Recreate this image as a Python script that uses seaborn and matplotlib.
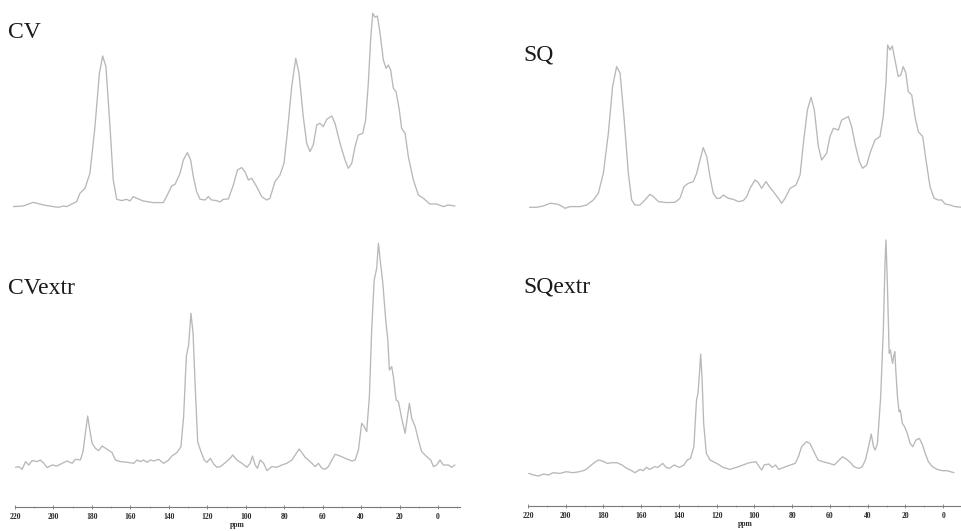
import numpy as np
import pandas as pd
import matplotlib
matplotlib.use("Agg")
import matplotlib.pyplot as plt
import seaborn as sns

# ---------------- data ----------------
cv_ppm = [220.6, 215.4, 210.2, 205.0, 199.8, 197.2, 194.6, 192.9, 187.7, 186.0, 183.4, 180.8, 178.2, 175.9,
          174.2, 172.5, 170.4, 168.7, 166.9, 164.3, 161.7, 160.0, 158.3, 156.5, 153.1, 147.9, 142.7, 141.0,
          138.4, 136.6, 134.0, 132.3, 130.2, 128.5, 127.1, 125.4, 123.6, 121.0, 119.3, 117.6, 115.0, 113.2,
          111.5, 108.9, 106.3, 104.2, 102.0, 100.3, 98.5, 96.8, 94.2, 91.6, 89.0, 87.3, 84.7, 82.1, 80.0,
          78.3, 76.0, 73.9, 72.2, 70.0, 68.2, 66.5, 64.8, 63.0, 61.3, 59.6, 57.8, 55.2, 53.5, 50.9, 48.3,
          46.6, 44.8, 43.1, 41.4, 39.1, 37.6, 36.2, 35.0, 33.9, 32.7, 31.5, 30.1, 28.4, 27.0, 25.8, 24.6,
          23.2, 21.8, 20.1, 18.9, 17.1, 15.4, 12.8, 10.2, 7.6, 4.2, 0.7, -2.8, -5.4, -8.8]
cv_int = [0.7, 1.3, 5, 2.3, 0.7, 0, 1.3, 0.7, 5.7, 14, 19, 34, 80.7, 134,
          151.3, 140.7, 80.7, 27.3, 8, 6.7, 8, 6.3, 10.7, 9, 6.3, 4.7, 4.7, 10.7,
          21.3, 23, 34, 47.3, 54.7, 47.3, 30.7, 15.7, 8, 7.3, 10.7, 7.3, 6.7, 5.3,
          8, 8.3, 22.3, 37.3, 39.7, 35.7, 27.3, 29, 20.7, 10.7, 7.3, 9, 25.7, 32.3, 44,
          74, 120.7, 149, 134, 90.7, 64, 55.7, 62.3, 82.3, 84, 80.7, 88, 91.3, 84, 64, 47.3,
          39, 44, 60.7, 72.3, 74, 87.3, 124, 167.3, 194, 190, 191.3, 174, 147.3, 139, 142.3, 137.3,
          119, 115.7, 97.3, 79, 74, 50.7, 27.3, 12.3, 9, 3.3, 3.3, 0.7, 2.3, 1.3]

sq_ppm = [219.0, 215.2, 211.8, 208.3, 204.8, 202.3, 200.5, 197.9, 192.7, 189.3, 185.8, 183.2, 180.6, 178.0,
          175.8, 173.7, 171.9, 169.9, 167.6, 165.9, 164.2, 161.6, 159.0, 156.4, 154.6, 152.0, 147.7, 143.4,
          140.8, 138.7, 136.5, 133.9, 132.1, 130.4, 128.7, 126.9, 125.2, 123.5, 121.7, 120.0, 118.3, 115.7,
          113.1, 110.5, 107.9, 106.1, 104.4, 101.8, 100.1, 98.4, 96.1, 94.4, 92.3, 89.7, 88.0, 86.2, 83.6,
          80.5, 78.4, 76.7, 74.6, 72.7, 71.0, 68.9, 67.2, 64.6, 62.9, 61.1, 58.5, 56.8, 53.3, 51.6, 49.9,
          47.6, 45.9, 43.8, 42.1, 39.5, 36.9, 35.2, 33.8, 32.9, 31.7, 30.5, 29.1, 27.4, 26.1, 24.8, 23.4,
          22.2, 20.4, 18.7, 17.0, 14.7, 13.0, 10.9, 8.8, 6.6, 4.8, 3.1, 0.5, -2.1, -5.7]
sq_int = [0, 0, 1.3, 4, 3.3, 1.3, -1, 0.7, 0.7, 2.3, 7.3, 14, 34, 74,
          120.7, 140.7, 134, 90.7, 34, 7.3, 2.3, 2.3, 7.3, 13, 10.7, 5.7, 4.7, 5,
          9, 20.7, 24, 25.7, 34, 47.3, 59.7, 50.7, 30.7, 14, 9, 9, 12.3, 9,
          8, 5.7, 6.7, 10.7, 19, 27.3, 24.7, 19, 25.7, 20.7, 15.7, 9, 4, 9, 19,
          22.3, 32.3, 64, 97.3, 110, 97.3, 60.7, 47.3, 54, 70.7, 79, 77.3, 87.3, 90.7, 80.7, 64,
          45.7, 39, 42.3, 54, 67.3, 70.7, 90.7, 124, 162.3, 157.3, 161.3, 147.3, 130.7, 132.3, 140.7, 134,
          115.7, 112.3, 90.7, 75.7, 70.7, 47.3, 20.7, 9, 7.3, 7.3, 3.3, 2.3, 0.7, 0]

cvx_ppm = [219.7, 218.0, 216.3, 214.5, 212.8, 211.1, 208.5, 206.8, 205.0, 203.3, 200.7, 198.1, 195.5, 192.9,
           190.3, 188.6, 186.0, 184.6, 183.4, 182.2, 181.1, 179.9, 178.2, 176.5, 174.7, 172.1, 169.5, 167.8,
           165.2, 161.7, 158.3, 156.5, 154.8, 153.1, 151.3, 149.6, 147.9, 145.3, 142.7, 140.1, 138.4, 135.8,
           133.7, 132.3, 130.9, 129.7, 128.5, 127.4, 126.2, 125.0, 123.3, 121.6, 120.2, 118.4, 116.7, 115.0,
           113.2, 110.6, 108.1, 106.8, 104.6, 102.0, 99.4, 97.7, 96.5, 95.1, 93.9, 92.5, 90.7, 89.0, 86.4,
           83.8, 81.2, 78.6, 76.0, 74.3, 72.2, 70.8, 69.1, 67.4, 65.6, 63.9, 62.2, 60.4, 58.7, 57.0, 55.2,
           53.5, 50.9, 48.3, 44.8, 43.1, 41.4, 39.7, 38.4, 37.1, 35.7, 34.5, 33.2, 31.9, 31.0, 30.1, 28.7,
           27.2, 26.1, 25.3, 24.1, 23.2, 21.8, 20.6, 18.9, 17.1, 15.9, 14.9, 13.7, 11.9, 10.2, 8.5, 5.9,
           3.8, 2.4, 0.7, -1.0, -2.8, -5.4, -7.1, -8.8]
cvx_int = [1, 1.7, -1, 6.7, 3.3, 7.7, 6.7, 8.3, 5, 0.7, 3.3, 2.3, 5, 7.3,
           5, 9, 8.3, 16.7, 35, 52.3, 38.3, 25, 20, 17.7, 22.3, 19, 15.7, 8.3,
           6.7, 6, 5, 8.3, 6.7, 8.3, 6, 8.3, 7.3, 9, 5, 8.3, 12.3, 15.7,
           21.7, 51.7, 111.7, 123.3, 155, 135, 78.3, 26.7, 16.7, 8.3, 6, 10, 4.3, 1,
           1.7, 5.7, 10, 13.3, 8.3, 5, 1, 5, 12.3, 3.3, 0, 8.3, 5, -2.3, 1.7,
           1, 3.3, 5, 8.3, 13.3, 19.3, 15.7, 11, 8.3, 5, 1.7, 5, 0, -1, 1.7, 8.3,
           14, 12.3, 10, 7.3, 8.3, 18.3, 45, 41.7, 36.7, 71.7, 138.3, 188.3, 200, 225, 208.3, 185,
           148.3, 128.3, 98.3, 101.7, 91.7, 68.3, 66.7, 50, 35, 51.7, 65, 50, 41.7, 28.3, 16.7, 11.7,
           8.3, 1.7, 3.3, 8.3, 3.3, 3.3, 1, 3.3]

sqx_ppm = [219.6, 217.0, 214.4, 211.8, 209.2, 206.6, 203.1, 199.7, 196.2, 192.7, 189.6, 187.5, 184.9, 182.7,
           180.6, 178.0, 175.4, 172.8, 170.2, 167.6, 165.0, 163.3, 160.7, 159.0, 157.2, 155.5, 152.9, 151.2,
           148.6, 146.8, 145.1, 142.5, 139.9, 137.3, 135.6, 133.9, 132.1, 130.7, 129.9, 129.0, 128.5, 127.8,
           126.9, 125.5, 123.5, 120.0, 116.5, 113.1, 109.6, 106.1, 102.7, 99.2, 97.5, 96.1, 94.9, 92.3, 90.6,
           88.8, 87.1, 84.5, 81.0, 78.4, 76.7, 75.0, 72.4, 70.6, 68.9, 66.3, 63.7, 60.3, 57.7, 55.1, 53.3,
           51.1, 49.0, 47.3, 44.7, 42.9, 41.2, 39.5, 38.1, 36.9, 36.0, 34.8, 33.1, 31.7, 30.8, 30.3, 29.6,
           28.6, 27.9, 27.4, 26.8, 26.1, 25.6, 25.1, 24.2, 23.4, 22.7, 21.6, 20.4, 19.0, 17.5, 16.1, 14.4,
           12.6, 10.9, 9.5, 7.8, 5.7, 3.1, 0.5, -2.1, -5.7]
sqx_int = [3.3, 1.7, 0.7, 2.7, 1.7, 4, 3.3, 5, 4, 5, 6.7, 10, 14, 16.7,
           15.7, 13.3, 14, 14, 11.7, 8.3, 6, 4, 7.3, 6, 9.3, 7.3, 10, 9.3,
           13.3, 9.3, 8.3, 11.7, 9.3, 11.7, 16.7, 18.3, 30, 76.7, 83.3, 106.7, 122.7, 100,
           53.3, 23.3, 16.7, 13.3, 9.3, 7.3, 9.3, 11.7, 14, 15, 10, 6.7, 11.7, 12.7, 9.3,
           11.7, 7.3, 9.3, 11.7, 13.3, 20, 30, 35, 33.3, 26.7, 16.7, 15, 13.3, 11.7, 16.7, 20,
           17.3, 14, 10, 8.3, 10, 16.7, 30, 42.7, 30, 26.7, 33.3, 80, 146.7, 213.3, 236.7, 196.7,
           123.3, 126.7, 120, 113.3, 121.7, 125, 106.7, 80, 65, 66.7, 53.3, 50, 43.3, 33.3, 30, 36.7,
           38.3, 31.7, 23.3, 15, 10, 7.3, 6, 6, 4]

panel_names = ["CV", "SQ", "CVextr", "SQextr"]
tick_values = [220, 200, 180, 160, 140, 120, 100, 80, 60, 40, 20, 0]
tick_labels = ["220", "200", "180", "160", "140", "120", "100", "80", "60", "40", "20", "0"]
axis_title = "ppm"

# ---------------- figure ----------------
sns.set_style("white")
plt.rcParams["font.family"] = ["Liberation Serif", "DejaVu Serif"]

W, H = 962, 531
fig = plt.figure(figsize=(W / 100, H / 100), dpi=100)
PX = 1.925  # pixels per ppm


def make_axes(left, right, top, bottom, zero_px, base_px):
    ax = fig.add_axes([left / W, 1 - bottom / H, (right - left) / W, (bottom - top) / H])
    ax.set_xlim((zero_px - left) / PX, (zero_px - right) / PX)
    ax.set_ylim(base_px - bottom, base_px - top)
    ax.patch.set_alpha(0)
    return ax


line_kw = dict(color="#b8b8b8", linewidth=0.95, estimator=None, sort=False, legend=False)

specs = [
    (cv_ppm, cv_int, (13, 462, 0, 215, 438, 207.3), False, (8, 38)),
    (sq_ppm, sq_int, (526, 962, 0, 215, 951, 207.3), False, (523, 61)),
    (cvx_ppm, cvx_int, (15, 460, 222, 507, 438, 468.3), True, (8, 294)),
    (sqx_ppm, sqx_int, (528, 962, 222, 506, 951, 476.7), True, (523, 293)),
]

for (xs, ys, rect, with_axis, lab), name in zip(specs, panel_names):
    ax = make_axes(*rect)
    df = pd.DataFrame({"ppm": xs, "intensity": ys})
    sns.lineplot(data=df, x="ppm", y="intensity", ax=ax, **line_kw)
    ax.set_yticks([])
    ax.set_ylabel("")
    for s in ["top", "left", "right"]:
        ax.spines[s].set_visible(False)
    if with_axis:
        ax.spines["bottom"].set_visible(True)
        ax.spines["bottom"].set_color("#7a7a7a")
        ax.spines["bottom"].set_linewidth(0.8)
        ax.set_xticks(tick_values)
        ax.set_xticklabels(tick_labels, fontsize=5.5, fontweight="bold", color="#2a2a2a")
        ax.set_xticks(np.arange(-10, 221, 10), minor=True)
        ax.tick_params(axis="x", which="major", direction="inout", length=3, width=0.6,
                       color="#7a7a7a", pad=3, bottom=True)
        ax.tick_params(axis="x", which="minor", direction="inout", length=2, width=0.5,
                       color="#9a9a9a", bottom=True)
        ax.set_xlabel(axis_title, fontsize=5.5, fontweight="bold", color="#2a2a2a", labelpad=0)
    else:
        ax.spines["bottom"].set_visible(False)
        ax.set_xticks([])
        ax.set_xlabel("")
    fig.text(lab[0] / W, 1 - lab[1] / H, name, fontsize=17, color="#1a1a1a",
             family=["Liberation Serif", "DejaVu Serif"], ha="left", va="baseline")

fig.savefig("out.png", dpi=100, facecolor="white")
